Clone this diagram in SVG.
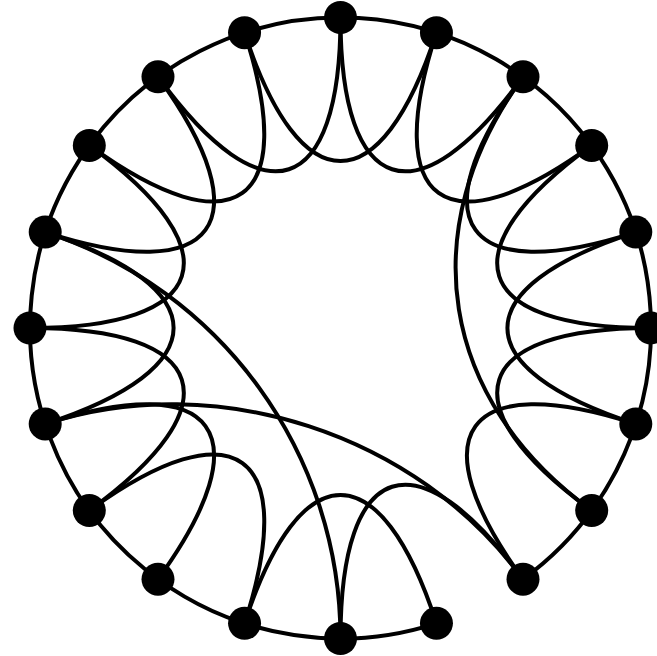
<svg xmlns="http://www.w3.org/2000/svg" width="657" height="656" viewBox="0 0 657 656">
<style>
.e{fill:none;stroke:#000;stroke-width:4;stroke-linecap:round}
.n{fill:#000}
</style>
<rect width="657" height="656" fill="#fff"/>
<g id="connectors">
<path class="e" d="M436.45,623.3 A310.5,310.5 0 1 1 523.01,579.2"/>
<path class="e" d="M340.5,17.5 C340.5,197.5 417.21,222.42 523.01,76.8"/>
<path class="e" d="M436.45,32.7 C380.83,203.88 446.08,251.29 591.7,145.49"/>
<path class="e" d="M523.01,76.8 C417.21,222.42 464.62,287.67 635.8,232.05"/>
<path class="e" d="M591.7,145.49 C446.08,251.29 471.01,328 651,328"/>
<path class="e" d="M635.8,232.05 C464.62,287.67 464.62,368.33 635.8,423.95"/>
<path class="e" d="M651,328 C471.01,328 446.08,404.71 591.7,510.51"/>
<path class="e" d="M635.8,423.95 C464.62,368.33 417.21,433.58 523.01,579.2"/>
<path class="e" d="M523.01,579.2 C417.21,433.58 340.5,458.5 340.5,638.5"/>
<path class="e" d="M436.45,623.3 C380.83,452.11 300.17,452.11 244.55,623.3"/>
<path class="e" d="M244.55,623.3 C300.17,452.11 234.92,404.71 89.3,510.51"/>
<path class="e" d="M157.99,579.2 C263.79,433.58 216.39,368.33 45.2,423.95"/>
<path class="e" d="M89.3,510.51 C234.92,404.71 210,328 30,328"/>
<path class="e" d="M45.2,423.95 C216.39,368.33 216.39,287.67 45.2,232.05"/>
<path class="e" d="M30,328 C210,328 234.92,251.29 89.3,145.49"/>
<path class="e" d="M45.2,232.05 C216.39,287.67 263.79,222.42 157.99,76.8"/>
<path class="e" d="M89.3,145.49 C234.92,251.29 300.17,203.88 244.55,32.7"/>
<path class="e" d="M157.99,76.8 C263.79,222.42 340.5,197.5 340.5,17.5"/>
<path class="e" d="M244.55,32.7 C300.17,203.88 380.83,203.88 436.45,32.7"/>
<path class="e" d="M523.01,76.8 C412.5,228.9 439.6,400 591.7,510.51"/>
<path class="e" d="M45.2,232.05 C221.14,289.22 340.5,453.5 340.5,638.5"/>
<path class="e" d="M45.2,423.95 C216.39,368.33 417.21,433.58 523.01,579.2"/>
</g>
<g id="nodes">
<circle id="v0" class="n" cx="340.5" cy="17.5" r="16.5"/>
<circle id="v1" class="n" cx="436.45" cy="32.7" r="16.5"/>
<circle id="v2" class="n" cx="523.01" cy="76.8" r="16.5"/>
<circle id="v3" class="n" cx="591.7" cy="145.49" r="16.5"/>
<circle id="v4" class="n" cx="635.8" cy="232.05" r="16.5"/>
<circle id="v5" class="n" cx="651" cy="328" r="16.5"/>
<circle id="v6" class="n" cx="635.8" cy="423.95" r="16.5"/>
<circle id="v7" class="n" cx="591.7" cy="510.51" r="16.5"/>
<circle id="v8" class="n" cx="523.01" cy="579.2" r="16.5"/>
<circle id="v9" class="n" cx="436.45" cy="623.3" r="16.5"/>
<circle id="v10" class="n" cx="340.5" cy="638.5" r="16.5"/>
<circle id="v11" class="n" cx="244.55" cy="623.3" r="16.5"/>
<circle id="v12" class="n" cx="157.99" cy="579.2" r="16.5"/>
<circle id="v13" class="n" cx="89.3" cy="510.51" r="16.5"/>
<circle id="v14" class="n" cx="45.2" cy="423.95" r="16.5"/>
<circle id="v15" class="n" cx="30" cy="328" r="16.5"/>
<circle id="v16" class="n" cx="45.2" cy="232.05" r="16.5"/>
<circle id="v17" class="n" cx="89.3" cy="145.49" r="16.5"/>
<circle id="v18" class="n" cx="157.99" cy="76.8" r="16.5"/>
<circle id="v19" class="n" cx="244.55" cy="32.7" r="16.5"/>
</g>
</svg>
